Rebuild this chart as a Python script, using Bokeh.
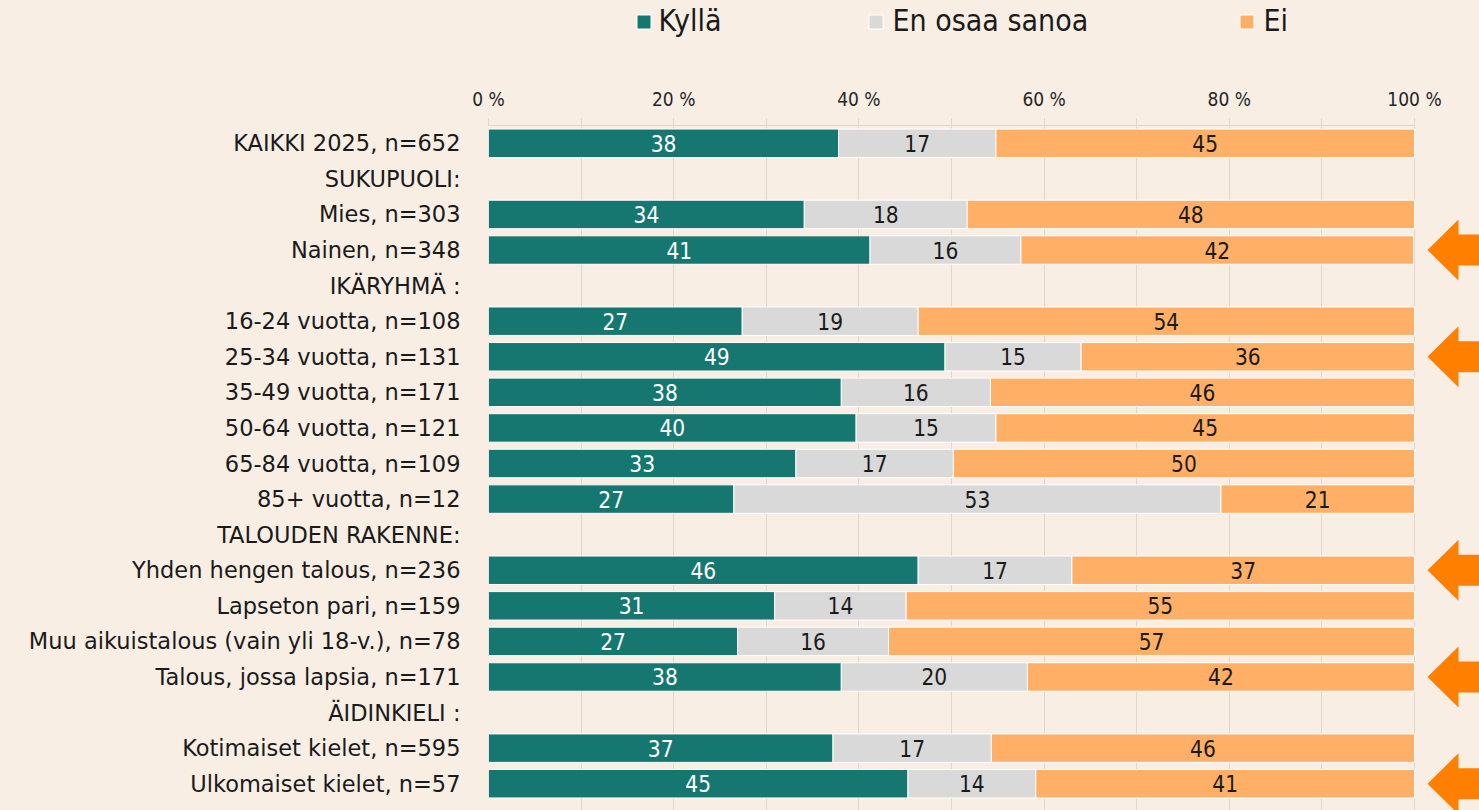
import math
from bokeh.plotting import figure
from bokeh.models import Range1d, FixedTicker, ColumnDataSource
from bokeh.layouts import column
from bokeh.embed import file_html
from bokeh.resources import INLINE
from bokeh.core.properties import value

# ---------------- data ----------------
categories = [
    "KAIKKI 2025, n=652", "SUKUPUOLI:", "Mies, n=303", "Nainen, n=348",
    "IKÄRYHMÄ :", "16-24 vuotta, n=108", "25-34 vuotta, n=131",
    "35-49 vuotta, n=171", "50-64 vuotta, n=121", "65-84 vuotta, n=109",
    "85+ vuotta, n=12", "TALOUDEN RAKENNE:", "Yhden hengen talous, n=236",
    "Lapseton pari, n=159", "Muu aikuistalous (vain yli 18-v.), n=78",
    "Talous, jossa lapsia, n=171", "ÄIDINKIELI :", "Kotimaiset kielet, n=595",
    "Ulkomaiset kielet, n=57",
]
series = ["Kyllä", "En osaa sanoa", "Ei"]
kylla = [37.8, None, 34.1, 41.2, None, 27.4, 49.3, 38.1, 39.7, 33.2, 26.5, None,
         46.4, 30.9, 26.9, 38.1, None, 37.2, 45.3]
eos = [17.0, None, 17.6, 16.3, None, 19.0, 14.7, 16.1, 15.1, 17.0, 52.6, None,
       16.6, 14.2, 16.3, 20.1, None, 17.1, 13.8]
ei = [45.2, None, 48.3, 42.4, None, 53.6, 36.0, 45.8, 45.2, 49.8, 20.9, None,
      37.0, 54.9, 56.8, 41.8, None, 45.7, 40.9]
highlighted = ["Nainen, n=348", "25-34 vuotta, n=131", "Yhden hengen talous, n=236",
               "Talous, jossa lapsia, n=171", "Ulkomaiset kielet, n=57"]
tick_values = [0, 20, 40, 60, 80, 100]
tick_labels = ["0 %", "20 %", "40 %", "60 %", "80 %", "100 %"]
minor_tick_values = [0, 10, 20, 30, 40, 50, 60, 70, 80, 90, 100]

# ---------------- style ----------------
BG = "#f8eee4"
GRID = "#dcd7d1"
COLORS = ["#167770", "#d9d9d9", "#ffb066"]
LABEL_COLORS = ["#ffffff", "#1a1a1a", "#1a1a1a"]
ARROW = "#ff7f00"
FONT = "DejaVu Sans"
FONT_C = "DejaVu Sans Condensed"

W = 1479
LEG_H = 68
MAIN_H = 742
LEFT = 488
TOP = 57
ROW_PX = 35.58
PX_PER_UNIT = 9.26

n = len(categories)
frame_w = W - LEFT
x_end = frame_w / PX_PER_UNIT
frame_h = MAIN_H - TOP
y_bottom = frame_h / ROW_PX - 0.5


def xl_round(v):
    return int(math.floor(v + 0.5))


def px_to_x(px):
    return (px - LEFT) / PX_PER_UNIT


x_range = Range1d(0, x_end)

# ---------------- main figure ----------------
p = figure(width=W, height=MAIN_H, x_range=x_range,
           y_range=Range1d(y_bottom, -0.5), x_axis_location="above",
           output_backend="svg", toolbar_location=None,
           min_border_left=LEFT, min_border_right=0, min_border_top=TOP,
           min_border_bottom=0)
p.background_fill_color = BG
p.border_fill_color = BG
p.outline_line_color = None

rows = [i for i, v in enumerate(kylla) if v is not None]
bar_data = dict(y=rows,
                k=[kylla[i] for i in rows],
                e=[eos[i] for i in rows],
                o=[ei[i] for i in rows])
src = ColumnDataSource(bar_data)
p.hbar_stack(["k", "e", "o"], y="y", height=0.8, color=COLORS,
             line_color="white", line_width=1, source=src)

# labels inside segments
lx, ly, lt, lc = [], [], [], []
for i in rows:
    vals = [kylla[i], eos[i], ei[i]]
    left = 0.0
    for j, v in enumerate(vals):
        lx.append(left + v / 2.0)
        ly.append(i)
        lt.append(str(xl_round(v)))
        lc.append(LABEL_COLORS[j])
        left += v
p.text(x="x", y="y", text="t", text_color="c",
       source=ColumnDataSource(dict(x=lx, y=ly, t=lt, c=lc)),
       text_align="center", text_baseline="middle",
       text_font=value(FONT_C), text_font_size="22.5px")

# highlight arrows (pointing left, right of the 100 % line)
ux = 1.0 / PX_PER_UNIT
uy = 1.0 / ROW_PX
tip = 100 + 13 * ux
base = tip + 31 * ux
end = x_end + 5
hh = 30.5 * uy
sh = 15.5 * uy
axs, ays = [], []
for cat in highlighted:
    r = categories.index(cat)
    axs.append([tip, base, base, end, end, base, base])
    ays.append([r, r - hh, r - sh, r - sh, r + sh, r + sh, r + hh])
p.patches(axs, ays, fill_color=ARROW, line_color=None)

# x axis (top)
xa = p.xaxis[0]
xa.ticker = FixedTicker(ticks=tick_values, minor_ticks=minor_tick_values)
xa.major_label_overrides = {v: l for v, l in zip(tick_values, tick_labels)}
xa.bounds = (0, 100)
xa.axis_line_color = GRID
xa.major_tick_line_color = GRID
xa.minor_tick_line_color = GRID
xa.major_tick_in = 0
xa.minor_tick_in = 0
xa.major_tick_out = 7
xa.minor_tick_out = 7
xa.major_label_standoff = 9
xa.major_label_text_font = FONT_C
xa.major_label_text_font_size = "19px"
xa.major_label_text_color = "#262626"

p.xgrid.ticker = FixedTicker(ticks=tick_values, minor_ticks=minor_tick_values)
p.xgrid.grid_line_color = GRID
p.xgrid.minor_grid_line_color = GRID
p.ygrid.grid_line_color = None

ya = p.yaxis[0]
ya.ticker = FixedTicker(ticks=list(range(n)))
ya.major_label_overrides = {i: c for i, c in enumerate(categories)}
ya.axis_line_color = None
ya.major_tick_line_color = None
ya.minor_tick_line_color = None
ya.major_label_standoff = 22
ya.major_label_text_font = FONT
ya.major_label_text_font_size = "22.5px"
ya.major_label_text_color = "#1a1a1a"

# ---------------- legend strip (shares the x scale) ----------------
leg = figure(width=W, height=LEG_H, x_range=x_range, y_range=Range1d(LEG_H, 0),
             output_backend="svg", toolbar_location=None,
             min_border_left=LEFT, min_border_right=0, min_border_top=0,
             min_border_bottom=0)
leg.background_fill_color = BG
leg.border_fill_color = BG
leg.outline_line_color = None
leg.axis.visible = False
leg.grid.visible = False

LEG_SQ_PX = [643.5, 875.5, 1246.5]
LEG_TXT_PX = [658, 892, 1263]
leg.scatter(x=[px_to_x(v) for v in LEG_SQ_PX], y=[21.5] * 3, marker="square",
            size=14, fill_color=COLORS, line_color="white", line_width=1)
leg.text(x=[px_to_x(v) for v in LEG_TXT_PX], y=[20] * 3, text=series,
         text_align="left", text_baseline="middle", text_color="#1a1a1a",
         text_font=value(FONT_C), text_font_size="30px")

layout = column(leg, p, spacing=0)
layout.styles = {"background-color": BG}

html = file_html(layout, INLINE)
html = html.replace("<body>", '<body style="background-color:%s">' % BG, 1)
open("out.html", "w").write(html)
